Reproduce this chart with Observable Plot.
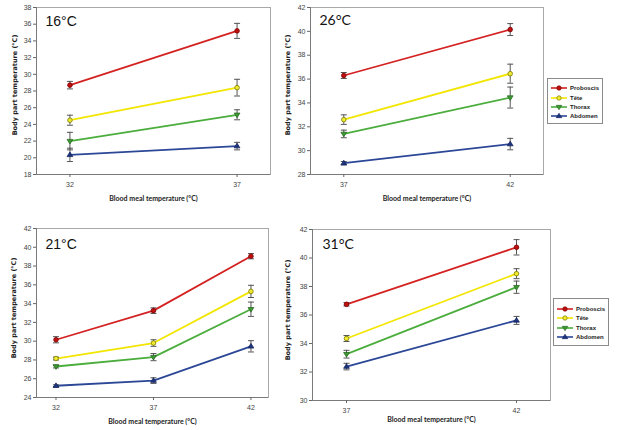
<!DOCTYPE html>
<html>
<head>
<meta charset="utf-8">
<script src="https://cdn.jsdelivr.net/npm/d3@7"></script>
<script src="https://cdn.jsdelivr.net/npm/@observablehq/plot@0.6"></script>
<style>
  body { margin: 0; background: white; }
  #wrap { position: relative; width: 617px; height: 430px; background: white; overflow: hidden; }
  .panel { position: absolute; }
  .legend { position: absolute; border: 1px solid #8a8a8a; background: white; box-sizing: border-box;
            font-family: "Liberation Sans", Arial, sans-serif; font-weight: bold; font-size: 6px; color: #222; }
  .legend .row { position: absolute; left: 3px; height: 8px; display: flex; align-items: center; }
  .legend .row span { margin-left: 3px; }
</style>
</head>
<body>
<div id="wrap"></div>
<script>
// ---- data ----
const seriesNames = ["Proboscis", "Tête", "Thorax", "Abdomen"];
const lineColors  = ["#d42222", "#f2e600", "#4aad3c", "#2b4796"];
const markFill    = ["#c01010", "#f0ea30", "#3d9a32", "#1d347f"];
const markStroke  = ["#7a0000", "#7a7a00", "#2a6a22", "#152660"];

const panelTitles = ["16°C", "26°C", "21°C", "31°C"];
const xLabel = "Blood meal temperature (°C)";
const yLabel = "Body part temperature (°C)";

// 16°C
const x16 = [32, 37];
const mean16 = [[28.7, 35.2], [24.5, 28.4], [22.0, 25.15], [20.35, 21.4]];
const err16  = [[0.45, 0.9], [0.6, 1.0], [1.05, 0.6], [0.8, 0.45]];
const yTicks16 = [18, 20, 22, 24, 26, 28, 30, 32, 34, 36, 38];

// 26°C
const x26 = [37, 42];
const mean26 = [[36.3, 40.15], [32.6, 36.45], [31.4, 34.45], [28.95, 30.55]];
const err26  = [[0.25, 0.5], [0.4, 0.8], [0.32, 0.88], [0.14, 0.48]];
const yTicks26 = [28, 30, 32, 34, 36, 38, 40, 42];

// 21°C
const x21 = [32, 37, 42];
const mean21 = [[30.15, 33.25, 39.05], [28.15, 29.8, 35.3], [27.3, 28.3, 33.4], [25.25, 25.8, 29.45]];
const err21  = [[0.33, 0.3, 0.28], [0.15, 0.35, 0.65], [0.15, 0.38, 0.76], [0.1, 0.3, 0.6]];
const yTicks21 = [24, 26, 28, 30, 32, 34, 36, 38, 40, 42];

// 31°C
const x31 = [37, 42];
const mean31 = [[36.75, 40.75], [34.35, 38.9], [33.25, 37.95], [32.38, 35.62]];
const err31  = [[0.12, 0.54], [0.21, 0.35], [0.27, 0.43], [0.23, 0.28]];
const yTicks31 = [30, 32, 34, 36, 38, 40, 42];

// ---- symbols ----
const capSymbol = { draw(ctx, size) { const r = Math.sqrt(size / Math.PI); ctx.moveTo(-r, 0); ctx.lineTo(r, 0); } };
const triDown = { draw(ctx, size) { const r = Math.sqrt(size / Math.PI) * 1.25;
  ctx.moveTo(-r, -r * 0.6); ctx.lineTo(r, -r * 0.6); ctx.lineTo(0, r); ctx.closePath(); } };
const triUp = { draw(ctx, size) { const r = Math.sqrt(size / Math.PI) * 1.25;
  ctx.moveTo(-r, r * 0.6); ctx.lineTo(r, r * 0.6); ctx.lineTo(0, -r); ctx.closePath(); } };
const symbols = ["circle", "circle", triDown, triUp];

function rowsFor(xs, means, errs, si) {
  return xs.map((x, i) => ({ x, y: means[si][i], lo: means[si][i] - errs[si][i], hi: means[si][i] + errs[si][i] }));
}

function panel(cfg) {
  const marks = [
    Plot.frame({ stroke: "#a8a8a8" }),
    Plot.ruleX([cfg.xDomain[0]], { stroke: "#7a7a7a" }),
    Plot.ruleY([cfg.yDomain[0]], { stroke: "#7a7a7a" }),
    Plot.axisY({ ticks: cfg.yTicks, tickSize: 3, tickPadding: 2, tickFormat: d => d, label: null, stroke: "#666", fill: "#444" }),
    Plot.axisX({ ticks: cfg.xs, tickSize: 3, tickPadding: 5, tickFormat: d => d, label: null, stroke: "#666", fill: "#444" }),
  ];
  seriesNames.forEach((s, si) => {
    const rows = rowsFor(cfg.xs, cfg.means, cfg.errs, si);
    marks.push(Plot.line(rows, { x: "x", y: "y", stroke: lineColors[si], strokeWidth: 1.8 }));
  });
  seriesNames.forEach((s, si) => {
    const rows = rowsFor(cfg.xs, cfg.means, cfg.errs, si);
    marks.push(Plot.ruleX(rows, { x: "x", y1: "lo", y2: "hi", stroke: "#555", strokeWidth: 1 }));
    marks.push(Plot.dot(rows, { x: "x", y: "lo", symbol: capSymbol, r: 3, stroke: "#555", strokeWidth: 1 }));
    marks.push(Plot.dot(rows, { x: "x", y: "hi", symbol: capSymbol, r: 3, stroke: "#555", strokeWidth: 1 }));
  });
  seriesNames.forEach((s, si) => {
    const rows = rowsFor(cfg.xs, cfg.means, cfg.errs, si);
    marks.push(Plot.dot(rows, { x: "x", y: "y", symbol: symbols[si], r: 2.3, fill: markFill[si], stroke: markStroke[si], strokeWidth: 0.8 }));
  });
  marks.push(Plot.text([cfg.title], { frameAnchor: "top-left", textAnchor: "start", lineAnchor: "middle", dx: cfg.tdx, dy: cfg.tdy,
    fontSize: 14, fontFamily: cfg.titleFont, fill: "#111" }));
  marks.push(Plot.text([xLabel], { frameAnchor: "bottom", textAnchor: "middle", lineAnchor: "middle", dy: cfg.xldy, fontSize: 7, fontWeight: "bold",
    fontFamily: "Lato, 'Liberation Sans', sans-serif", fill: "#222" }));
  marks.push(Plot.text([yLabel], { frameAnchor: "left", textAnchor: "middle", lineAnchor: "middle", dx: cfg.yldx, dy: cfg.yldy, rotate: -90, fontSize: 6.5, fontWeight: "bold",
    fontFamily: "'DejaVu Sans', sans-serif", fill: "#222" }));

  const svg = Plot.plot({
    width: cfg.width, height: cfg.height,
    marginLeft: cfg.ml, marginRight: cfg.mr, marginTop: cfg.mt, marginBottom: cfg.mb,
    x: { domain: cfg.xDomain },
    y: { domain: cfg.yDomain },
    style: { background: "transparent", fontFamily: "'Liberation Sans', Arial, sans-serif", fontSize: "7px", color: "#555", overflow: "visible" },
    marks
  });
  svg.classList.add("panel");
  svg.style.left = cfg.left + "px";
  svg.style.top = cfg.top + "px";
  svg.style.position = "absolute";
  return svg;
}

function legend(left, top, width, height, rowYs) {
  const div = document.createElement("div");
  div.className = "legend";
  Object.assign(div.style, { left: left + "px", top: top + "px", width: width + "px", height: height + "px" });
  seriesNames.forEach((s, si) => {
    const row = document.createElement("div");
    row.className = "row";
    row.style.top = (rowYs[si] - top - 4) + "px";
    const ns = "http://www.w3.org/2000/svg";
    const sv = document.createElementNS(ns, "svg");
    sv.setAttribute("width", 16); sv.setAttribute("height", 8);
    const ln = document.createElementNS(ns, "line");
    ln.setAttribute("x1", 0); ln.setAttribute("x2", 16); ln.setAttribute("y1", 4); ln.setAttribute("y2", 4);
    ln.setAttribute("stroke", lineColors[si]); ln.setAttribute("stroke-width", 1.6);
    sv.appendChild(ln);
    const p = document.createElementNS(ns, "path");
    const sym = si < 2 ? d3.symbolCircle : symbols[si];
    p.setAttribute("d", d3.symbol(sym, Math.PI * 2.2 * 2.2)());
    p.setAttribute("transform", "translate(8,4)");
    p.setAttribute("fill", markFill[si]); p.setAttribute("stroke", markStroke[si]); p.setAttribute("stroke-width", 0.7);
    sv.appendChild(p);
    row.appendChild(sv);
    const t = document.createElement("span");
    t.textContent = s;
    row.appendChild(t);
    div.appendChild(row);
  });
  return div;
}

const wrap = document.getElementById("wrap");
wrap.appendChild(panel({ left: 0, top: 0, width: 280, height: 210, ml: 36, mr: 10, mt: 7, mb: 36,
  xDomain: [31, 38], yDomain: [18, 38], xs: x16, means: mean16, errs: err16, yTicks: yTicks16,
  title: panelTitles[0], titleFont: "'Liberation Sans', Arial, sans-serif", tdx: 9, tdy: 14, xldy: 24, yldx: -22, yldy: -6 }));
wrap.appendChild(panel({ left: 280, top: 0, width: 273, height: 210, ml: 30, mr: 10, mt: 7, mb: 36,
  xDomain: [36, 43], yDomain: [28, 42], xs: x26, means: mean26, errs: err26, yTicks: yTicks26,
  title: panelTitles[1], titleFont: "Lato, sans-serif", tdx: 9, tdy: 13, xldy: 24, yldx: -23, yldy: -6 }));
wrap.appendChild(panel({ left: 0, top: 215, width: 280, height: 215, ml: 36, mr: 12, mt: 13, mb: 33,
  xDomain: [31, 42.9], yDomain: [24, 42], xs: x21, means: mean21, errs: err21, yTicks: yTicks21,
  title: panelTitles[2], titleFont: "'Liberation Sans', Arial, sans-serif", tdx: 9, tdy: 16, xldy: 24, yldx: -23, yldy: -5 }));
wrap.appendChild(panel({ left: 280, top: 215, width: 280, height: 215, ml: 32, mr: 10, mt: 14, mb: 30,
  xDomain: [36, 43], yDomain: [30, 42], xs: x31, means: mean31, errs: err31, yTicks: yTicks31,
  title: panelTitles[3], titleFont: "Lato, sans-serif", tdx: 10, tdy: 15, xldy: 19, yldx: -25, yldy: -5 }));
wrap.appendChild(legend(547, 78, 56, 46, [87, 97, 106, 115]));
wrap.appendChild(legend(553, 298, 56, 48, [308, 317, 327, 336]));
</script>
</body>
</html>
